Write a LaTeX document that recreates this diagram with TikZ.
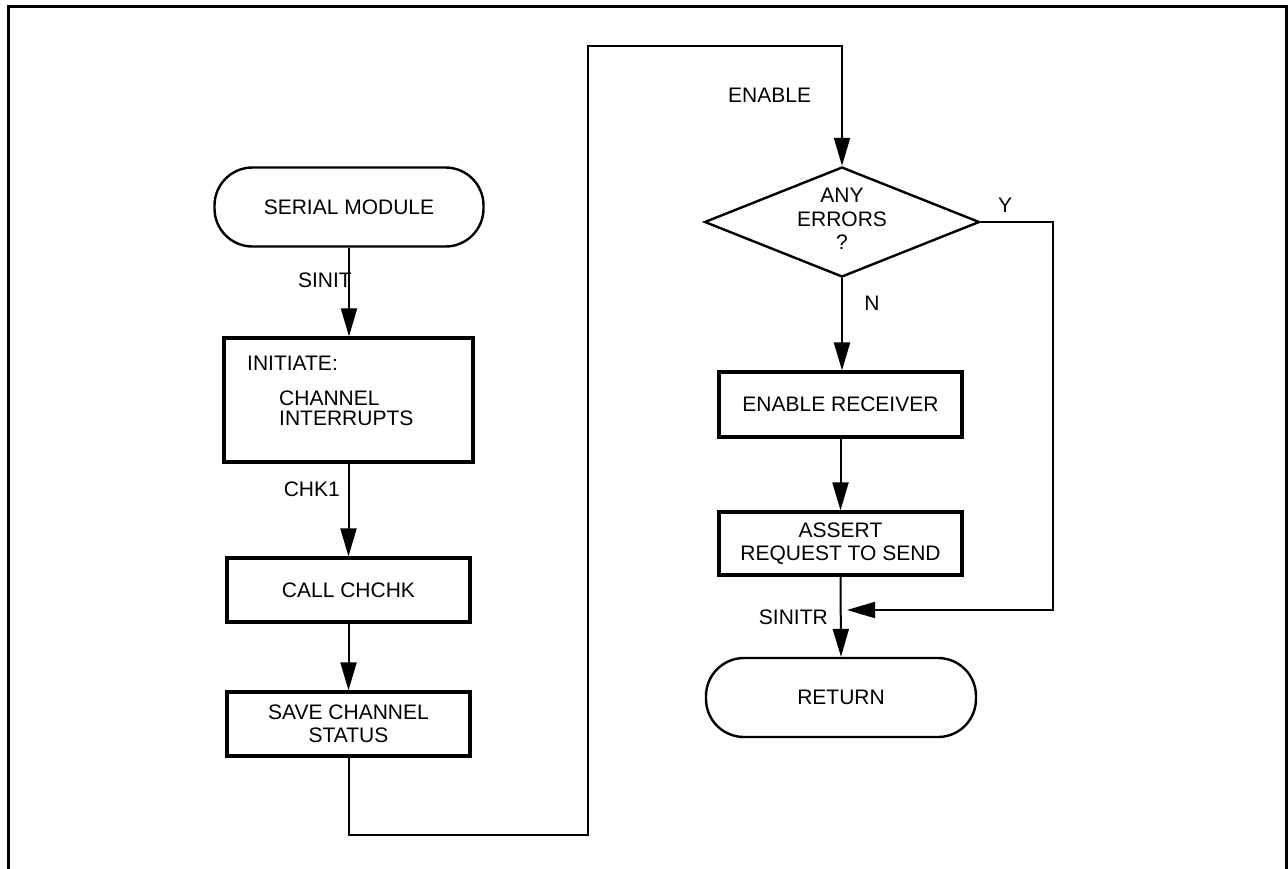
\documentclass[tikz,border=0pt]{standalone}
\usepackage{fontspec}
\setmainfont{Liberation Sans}
\usetikzlibrary{arrows.meta,shapes.geometric}
\begin{document}
\begin{tikzpicture}[x=1pt,y=-1pt,
  every node/.style={font=\fontsize{21}{23.5}\selectfont, inner sep=0pt},
  procbox/.style={draw, line width=3.2pt, minimum width=243pt, minimum height=64pt, align=center},
  term/.style={draw, line width=2.4pt, rounded corners=38pt, minimum width=269pt, minimum height=79pt},
  conn/.style={line width=2pt},
  arr/.style={conn, -{Triangle[length=28pt,width=16pt]}},
  frameline/.style={line width=3pt}]
\useasboundingbox (0,0) rectangle (1288,868);
\begin{scope}
\clip (0,0) rectangle (1288,868);
\draw[frameline] (8,880) -- (8,6) -- (1286.5,6) -- (1286.5,880);
\end{scope}
% left column
\node[term] (start) at (349,207) {SERIAL MODULE};
\node[procbox, minimum width=249pt, minimum height=124pt] (init) at (348.5,400) {};
\node[anchor=base west] (t1) at (247,370.5) {INITIATE:};
\node[anchor=base west] (t2) at (279,405.5) {CHANNEL};
\node[anchor=base west] (t3) at (279,425.5) {INTERRUPTS};
\node[procbox] (call) at (348.5,590) {CALL CHCHK};
\node[procbox] (save) at (348.5,724) {SAVE CHANNEL\\STATUS};
% right column
\node[diamond, draw, line width=2.4pt, minimum width=275pt, minimum height=110pt, aspect=2.5] (dec) at (842,222) {};
\node[align=center] (dectxt) at (842,219) {ANY\\ERRORS\\?};
\node[procbox, minimum height=65pt] (enrec) at (840.5,404.5) {ENABLE RECEIVER};
\node[procbox, minimum height=63pt] (assert) at (840.5,543.5) {ASSERT\\REQUEST TO SEND};
\node[term, minimum width=270pt] (ret) at (841,697.5) {RETURN};
% connectors
\draw[arr] (start.south) -- (start.south |- init.north);
\draw[arr] (init.south) -- (init.south |- call.north);
\draw[arr] (call.south) -- (save.north);
\coordinate (b1) at (588,835);
\coordinate (b2) at (588,46);
\draw[arr] (save.south) |- (b1) -- (b2) -| (dec.north);
\draw[arr] (dec.south) -- (dec.south |- enrec.north);
\draw[arr] (enrec.south) -- (assert.north);
\draw[arr] (assert.south) -- (ret.north);
\coordinate (y1) at (1053,222);
\coordinate (mg) at (847,610);
\draw[arr] (dec.east) -- (y1) |- (mg);
% labels
\node[anchor=east] (lsinit) at (352,280) {SINIT};
\node[anchor=east] (lchk) at (340,489) {CHK1};
\node[anchor=west] (lenable) at (728,95) {ENABLE};
\node (ly) at (1005,205) {Y};
\node (ln) at (872,303) {N};
\node[anchor=east] (lsinitr) at (828,617) {SINITR};
\end{tikzpicture}
\end{document}
